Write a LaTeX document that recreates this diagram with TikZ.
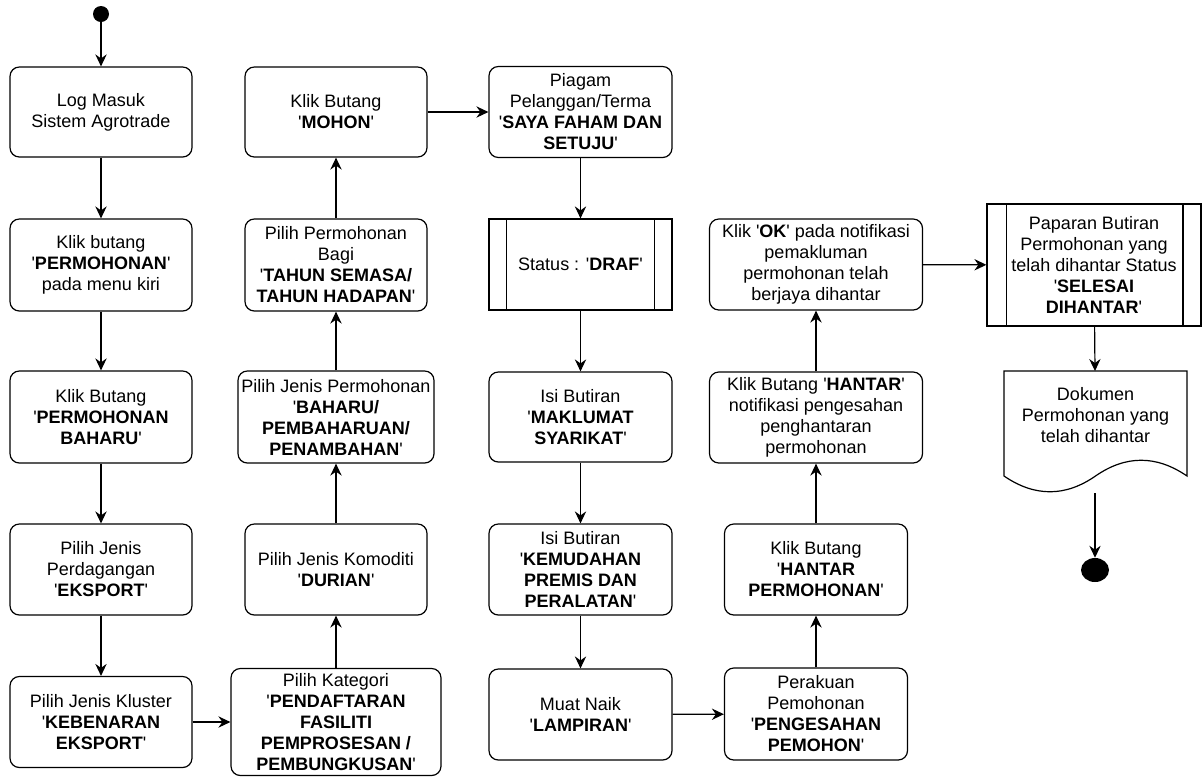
\documentclass[tikz,border=0pt]{standalone}
\usepackage{fontspec}
\setmainfont{Liberation Sans}[Ligatures=TeXOff]
\usetikzlibrary{arrows.meta,shapes.geometric}

\tikzset{
  langkah/.style={draw, rounded corners=7pt, line width=0.9pt, align=center, inner sep=1pt,
    font=\fontsize{13.5pt}{15.75pt}\selectfont, minimum width=136.5pt, minimum height=68.25pt},
  proses/.style={draw, line width=0.9pt, align=center, inner sep=1pt,
    font=\fontsize{13.5pt}{15.75pt}\selectfont, minimum width=137.25pt, minimum height=68.25pt},
  aliran/.style={-{Stealth[length=9pt,width=8.5pt,inset=3pt]}, line width=0.9pt},
}

\begin{document}
\begin{tikzpicture}[x=0.75pt,y=-0.75pt]

\useasboundingbox (0,0) rectangle (1202,776);

% Start and end
\node[circle, fill, minimum size=12pt, inner sep=0pt] (mula) at (101,14) {};
\node[ellipse, fill, minimum width=21pt, minimum height=18pt, inner sep=0pt] (tamat) at (1095,570) {};

% Column 1
\node[langkah, minimum height=67.5pt] (log) at (101,112) {Log Masuk\\Sistem Agrotrade};
\node[langkah, minimum height=69pt] (menu) at (101,265) {Klik butang\\'\textbf{PERMOHONAN}'\\pada menu kiri};
\node[langkah, minimum height=69pt] (baharu) at (101,417) {Klik Butang\\'\textbf{PERMOHONAN}\\\textbf{BAHARU}'};
\node[langkah] (dagang) at (101,569.5) {Pilih Jenis\\Perdagangan\\'\textbf{EKSPORT}'};
\node[langkah] (kluster) at (101,722) {Pilih Jenis Kluster\\'\textbf{KEBENARAN}\\\textbf{EKSPORT}'};

% Column 2
\node[langkah, minimum width=157.5pt, minimum height=80.25pt] (kategori) at (336,722) {Pilih Kategori\\'\textbf{PENDAFTARAN}\\\textbf{FASILITI}\\\textbf{PEMPROSESAN /}\\\textbf{PEMBUNGKUSAN}'};
\node[langkah] (komoditi) at (336,569.5) {Pilih Jenis Komoditi\\'\textbf{DURIAN}'};
\node[langkah, minimum width=147pt, minimum height=69pt] (jenis) at (336,417) {Pilih Jenis Permohonan\\'\textbf{BAHARU/}\\\textbf{PEMBAHARUAN/}\\\textbf{PENAMBAHAN}'};
\node[langkah, minimum height=69pt] (bagi) at (336,265) {Pilih Permohonan\\Bagi\\'\textbf{TAHUN SEMASA/}\\\textbf{TAHUN HADAPAN}'};
\node[langkah, minimum height=67.5pt] (mohon) at (336,112) {Klik Butang\\'\textbf{MOHON}'};

% Column 3
\node[langkah, minimum width=137.25pt] (piagam) at (580.5,112) {Piagam\\Pelanggan/Terma\\'\textbf{SAYA FAHAM DAN}\\\textbf{SETUJU}'};
\node[proses] (draf) at (580.5,264.5) {Status : '\textbf{DRAF}'};
\node[langkah, minimum width=137.25pt, minimum height=67.5pt] (maklumat) at (580.5,417) {Isi Butiran\\'\textbf{MAKLUMAT}\\\textbf{SYARIKAT}'};
\node[langkah, minimum width=137.25pt] (premis) at (580.5,569.5) {Isi Butiran\\'\textbf{KEMUDAHAN}\\\textbf{PREMIS DAN}\\\textbf{PERALATAN}'};
\node[langkah, minimum width=137.25pt] (lampiran) at (580.5,714.5) {Muat Naik\\'\textbf{LAMPIRAN}'};

% Column 4
\node[langkah, minimum width=137.25pt, minimum height=69pt] (perakuan) at (816,714) {Perakuan\\Pemohonan\\'\textbf{PENGESAHAN}\\\textbf{PEMOHON}'};
\node[langkah, minimum width=137.25pt] (hantarmohon) at (816,569.5) {Klik Butang\\'\textbf{HANTAR}\\\textbf{PERMOHONAN}'};
\node[langkah, minimum width=159.75pt] (hantar) at (816,417.5) {Klik Butang '\textbf{HANTAR}'\\notifikasi pengesahan\\penghantaran\\permohonan};
\node[langkah, minimum width=159.75pt] (ok) at (816,264.5) {Klik '\textbf{OK}' pada notifikasi\\pemakluman\\permohonan telah\\berjaya dihantar};

% Column 5
\node[proses, minimum width=160.5pt, minimum height=91.5pt] (paparan) at (1094,265) {Paparan Butiran\\Permohonan yang\\telah dihantar Status\\'\textbf{SELESAI}\\\textbf{DIHANTAR}'};
\draw[line width=0.9pt] (1004,371) -- (1187,371) -- (1187,476)
  .. controls (1156.3,455) and (1125.8,455) .. (1095.5,476)
  .. controls (1065.2,497) and (1034.7,497) .. (1004,476) -- cycle;
\node[align=center, font=\fontsize{13.5pt}{15.75pt}\selectfont, inner sep=0pt] (dokumen) at (1095.5,415) {Dokumen\\Permohonan yang\\telah dihantar};
\coordinate (dokumenbawah) at (1095,493);
\coordinate (dokumenatas) at (1095,371);

% Process side bars
\draw[line width=0.9pt] ([xshift=13.5pt]draf.north west) -- ([xshift=13.5pt]draf.south west);
\draw[line width=0.9pt] ([xshift=-13.5pt]draf.north east) -- ([xshift=-13.5pt]draf.south east);
\draw[line width=0.9pt] ([xshift=15pt]paparan.north west) -- ([xshift=15pt]paparan.south west);
\draw[line width=0.9pt] ([xshift=-14pt]paparan.north east) -- ([xshift=-14pt]paparan.south east);

% Flow
\draw[aliran] (mula) -- (log);
\draw[aliran] (log) -- (menu);
\draw[aliran] (menu) -- (baharu);
\draw[aliran] (baharu) -- (dagang);
\draw[aliran] (dagang) -- (kluster);
\draw[aliran] (kluster) -- (kategori);
\draw[aliran] (kategori) -- (komoditi);
\draw[aliran] (komoditi) -- (jenis);
\draw[aliran] (jenis) -- (bagi);
\draw[aliran] (bagi) -- (mohon);
\draw[aliran] (mohon) -- (piagam);
\draw[aliran] (piagam) -- (draf);
\draw[aliran] (draf) -- (maklumat);
\draw[aliran] (maklumat) -- (premis);
\draw[aliran] (premis) -- (lampiran);
\draw[aliran] (lampiran) -- (perakuan);
\draw[aliran] (perakuan) -- (hantarmohon);
\draw[aliran] (hantarmohon) -- (hantar);
\draw[aliran] (hantar) -- (ok);
\draw[aliran] (ok) -- (paparan);
\draw[aliran] (paparan) -- (dokumenatas);
\draw[aliran] (dokumenbawah) -- (tamat);

\end{tikzpicture}
\end{document}
